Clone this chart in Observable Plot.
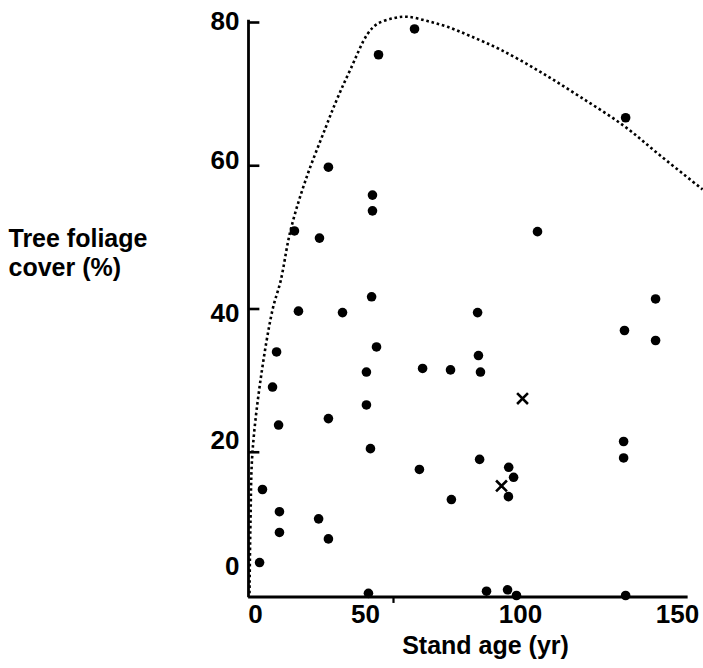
<!DOCTYPE html>
<html>
<head>
<meta charset="utf-8">
<script src="https://cdn.jsdelivr.net/npm/d3@7"></script>
<script src="https://cdn.jsdelivr.net/npm/@observablehq/plot@0.6"></script>
<style>
  html, body { margin: 0; padding: 0; background: #fff; }
  #chart svg { display: block; }
</style>
</head>
<body>
<div id="chart"></div>
<script>
// Stand age (yr) and tree foliage cover (%) of sampled stands (filled dots)
const standAge = [44.8, 57.3, 130.6, 27.4, 42.7, 42.7, 15.6, 24.3, 100, 17.0, 32.3, 79.2, 42.4, 141, 130.2, 141,
  9.4, 44.1, 8.0, 40.6, 60.1, 69.8, 79.5, 80.2, 10.1, 27.4, 40.6, 42, 129.9, 129.9, 79.9, 90, 91.7, 89.9,
  59, 70.1, 4.5, 10.4, 24.0, 10.4, 27.4, 3.5, 41.3, 82.3, 89.6, 92.7, 130.6];
const foliageCover = [75.5, 79.1, 66.7, 59.8, 55.9, 53.7, 50.9, 49.9, 50.8, 39.7, 39.5, 39.5, 41.7, 41.4, 37.0, 35.6,
  34.0, 34.7, 29.1, 31.2, 31.7, 31.5, 33.5, 31.2, 23.8, 24.7, 26.6, 20.5, 21.5, 19.2, 19.0, 17.9, 16.5, 13.8,
  17.6, 13.4, 14.8, 11.7, 10.7, 8.8, 7.9, 4.6, 0.3, 0.6, 0.8, 0, 0];

// Stands drawn with a cross
const crossAge = [94.8, 87.5];
const crossCover = [27.5, 15.3];

// Dotted upper-envelope curve
const curveAge = [0, 0.35, 1.0, 3.8, 8.0, 10.8, 14.2, 19.4, 26.4, 30.6, 35.1, 41, 44.4, 50, 54.9, 61.8, 68.75, 76.7, 87.2, 101.0, 114.9, 129.9, 142.7, 157.3];
const curveCover = [0.3, 10.5, 19.8, 30.0, 39.9, 43.9, 50.9, 57.9, 65.3, 69.5, 73.5, 78.4, 79.8, 80.6, 80.8, 80.2, 79.4, 78.1, 76.2, 73.1, 69.6, 65.6, 61.4, 56.7];

// Axes
const yTicks = [20, 40, 60, 80];
const yTickLabels = ["0", "20", "40", "60", "80"];
const yLabelAt = [4.0, 21.6, 39.3, 60.7, 80.1];   // where the reference letters its y labels
const xTicks = [50];
const xTickLabels = ["0", "50", "100", "150"];
const xLabelAt = [2.1, 40.3, 94.1, 148.6];        // where the reference letters its x labels
const xTitle = "Stand age (yr)";
const yTitle = "Tree foliage\ncover (%)";

const points = standAge.map((a, i) => ({age: a, cover: foliageCover[i]}));
const crosses = crossAge.map((a, i) => ({age: a, cover: crossCover[i]}));
const curve = curveAge.map((a, i) => ({age: a, cover: curveCover[i]}));
const yLab = yTickLabels.map((t, i) => ({t, v: yLabelAt[i]}));
const xLab = xTickLabels.map((t, i) => ({t, v: xLabelAt[i]}));

const FONT = "'Liberation Sans', Arial, Helvetica, sans-serif";

const chart = Plot.plot({
  width: 703,
  height: 668,
  marginLeft: 249,
  marginRight: 22,
  marginTop: 22,
  marginBottom: 73,
  style: {fontFamily: FONT, background: "#fff"},
  x: {domain: [0, 150], axis: null},
  y: {domain: [0, 80], axis: null},
  marks: [
    // axis lines
    Plot.ruleX([0], {y1: -0.3, y2: 80.3, stroke: "#000", strokeWidth: 2.8, dx: -1}),
    Plot.ruleY([0], {x1: -0.3, x2: 152.3, stroke: "#000", strokeWidth: 2.8, dy: 1.5}),
    // y tick marks (pointing inward)
    Plot.ruleY(yTicks, {x1: 0, x2: 3.6, stroke: "#000", strokeWidth: 2.6}),
    // x tick marks (pointing down)
    Plot.ruleX(xTicks, {y1: 0, y2: -0.9, stroke: "#000", strokeWidth: 2.2, dy: 1.5}),
    // tick labels
    Plot.text(yLab, {x: 0, y: "v", text: "t", textAnchor: "end", dx: -10, fontSize: 26, fontWeight: "bold", fill: "#000"}),
    Plot.text(xLab, {x: "v", y: 0, text: "t", textAnchor: "middle", dy: 19, fontSize: 26, fontWeight: "bold", fill: "#000"}),
    // axis titles
    Plot.text([xTitle], {frameAnchor: "bottom", text: d => d, lineAnchor: "middle", dx: 20, dy: 50,
      fontSize: 25, fontWeight: "bold", fill: "#000"}),
    Plot.text([yTitle], {frameAnchor: "left", text: d => d, textAnchor: "start", lineAnchor: "middle",
      dx: -241, dy: -57, fontSize: 25, lineHeight: 1.15, fontWeight: "bold", fill: "#000"}),
    // dotted envelope
    Plot.line(curve, {x: "age", y: "cover", curve: "catmull-rom", stroke: "#000", strokeWidth: 2.6,
      strokeDasharray: "2.6 2.8", strokeLinecap: "butt"}),
    // data
    Plot.dot(points, {x: "age", y: "cover", r: 4.8, fill: "#000", stroke: "none"}),
    Plot.dot(crosses, {x: "age", y: "cover", symbol: "times", r: 5, stroke: "#000", strokeWidth: 2.6, fill: "none"})
  ]
});
document.getElementById("chart").appendChild(chart);
</script>
</body>
</html>
